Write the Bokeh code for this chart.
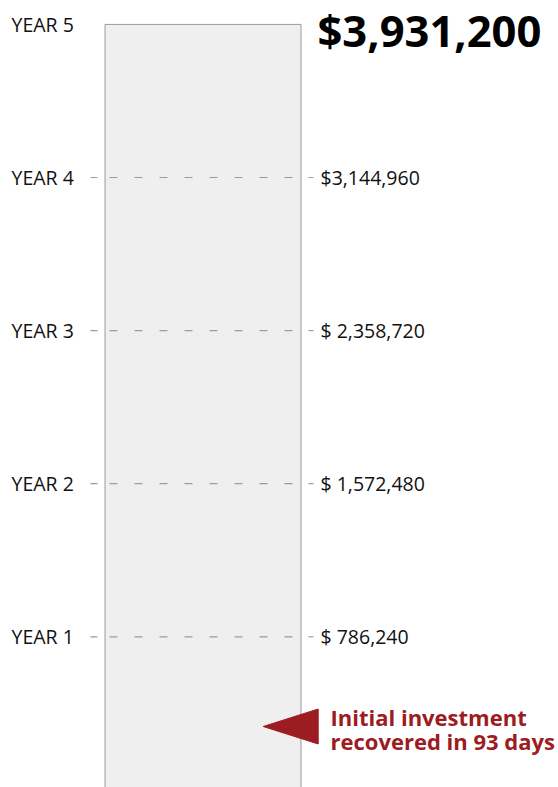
from bokeh.plotting import figure
from bokeh.models import Range1d, ColumnDataSource
from bokeh.core.properties import value
from bokeh.embed import file_html
from bokeh.resources import INLINE

# ---- data ----
years = [1, 2, 3, 4, 5]
year_labels = ["YEAR 1", "YEAR 2", "YEAR 3", "YEAR 4", "YEAR 5"]
cumulative = [786240, 1572480, 2358720, 3144960, 3931200]
value_labels = ["$ 786,240", "$ 1,572,480", "$ 2,358,720", "$3,144,960"]
total_label = "$3,931,200"
payback_value = 325600  # level of the "recovered" marker
payback_text = ["Initial investment", "recovered in 93 days"]

FONT = "Open Sans"
RED = "#9c1c22"

p = figure(width=558, height=787, x_range=Range1d(0, 558),
           y_range=Range1d(12300, 4054000),
           output_backend="svg", toolbar_location=None,
           x_axis_location=None, y_axis_location=None, min_border=0)
p.outline_line_color = None
p.xgrid.visible = False
p.ygrid.visible = False
p.background_fill_color = "white"
p.border_fill_color = "white"

# column (bar)
p.quad(left=[104.5], right=[300.5], bottom=[0], top=[cumulative[-1]],
       fill_color="#efefef", line_color="#9a9a9a", line_width=1)

lower = cumulative[:-1]
# dashed guide lines
DASH_C = "#9c9c9c"
p.segment(x0=[90] * 4, x1=[97] * 4, y0=lower, y1=lower, line_color=DASH_C, line_width=1.2)
p.segment(x0=[109] * 4, x1=[293] * 4, y0=lower, y1=lower, line_color=DASH_C,
          line_width=1.2, line_dash="8 17")
p.segment(x0=[308] * 4, x1=[313] * 4, y0=lower, y1=lower, line_color=DASH_C, line_width=1.2)

# year labels
src_y = ColumnDataSource(dict(x=[11] * 5, y=cumulative, t=year_labels))
p.text(x="x", y="y", text="t", source=src_y, text_font=value(FONT),
       text_font_size="19.5px", text_color="#111111", text_baseline="middle", text_align="left")

# value labels
src_v = ColumnDataSource(dict(x=[320] * 4, y=lower, t=value_labels))
p.text(x="x", y="y", text="t", source=src_v, text_font=value(FONT),
       text_font_size="19.5px", text_color="#111111", text_baseline="middle", text_align="left")

# total
p.text(x=[317], y=[cumulative[-1]], text=[total_label], text_font=value(FONT),
       text_font_style="bold", text_font_size="43.5px", text_color="#000000",
       text_baseline="middle", text_align="left", y_offset=6)

# payback arrow
p.patch(x=[262.7, 317.7, 317.7], y=[payback_value, payback_value + 17.5 * 5135, payback_value - 17.5 * 5135],
        fill_color=RED, line_color=RED)
p.text(x=[330, 330], y=[payback_value, payback_value], text=payback_text,
       text_font=value(FONT), text_font_style="bold", text_font_size="22px",
       text_color=RED, text_baseline="alphabetic", text_align="left", y_offset=[-9, 15])

open("out.html", "w").write(file_html(p, INLINE))
